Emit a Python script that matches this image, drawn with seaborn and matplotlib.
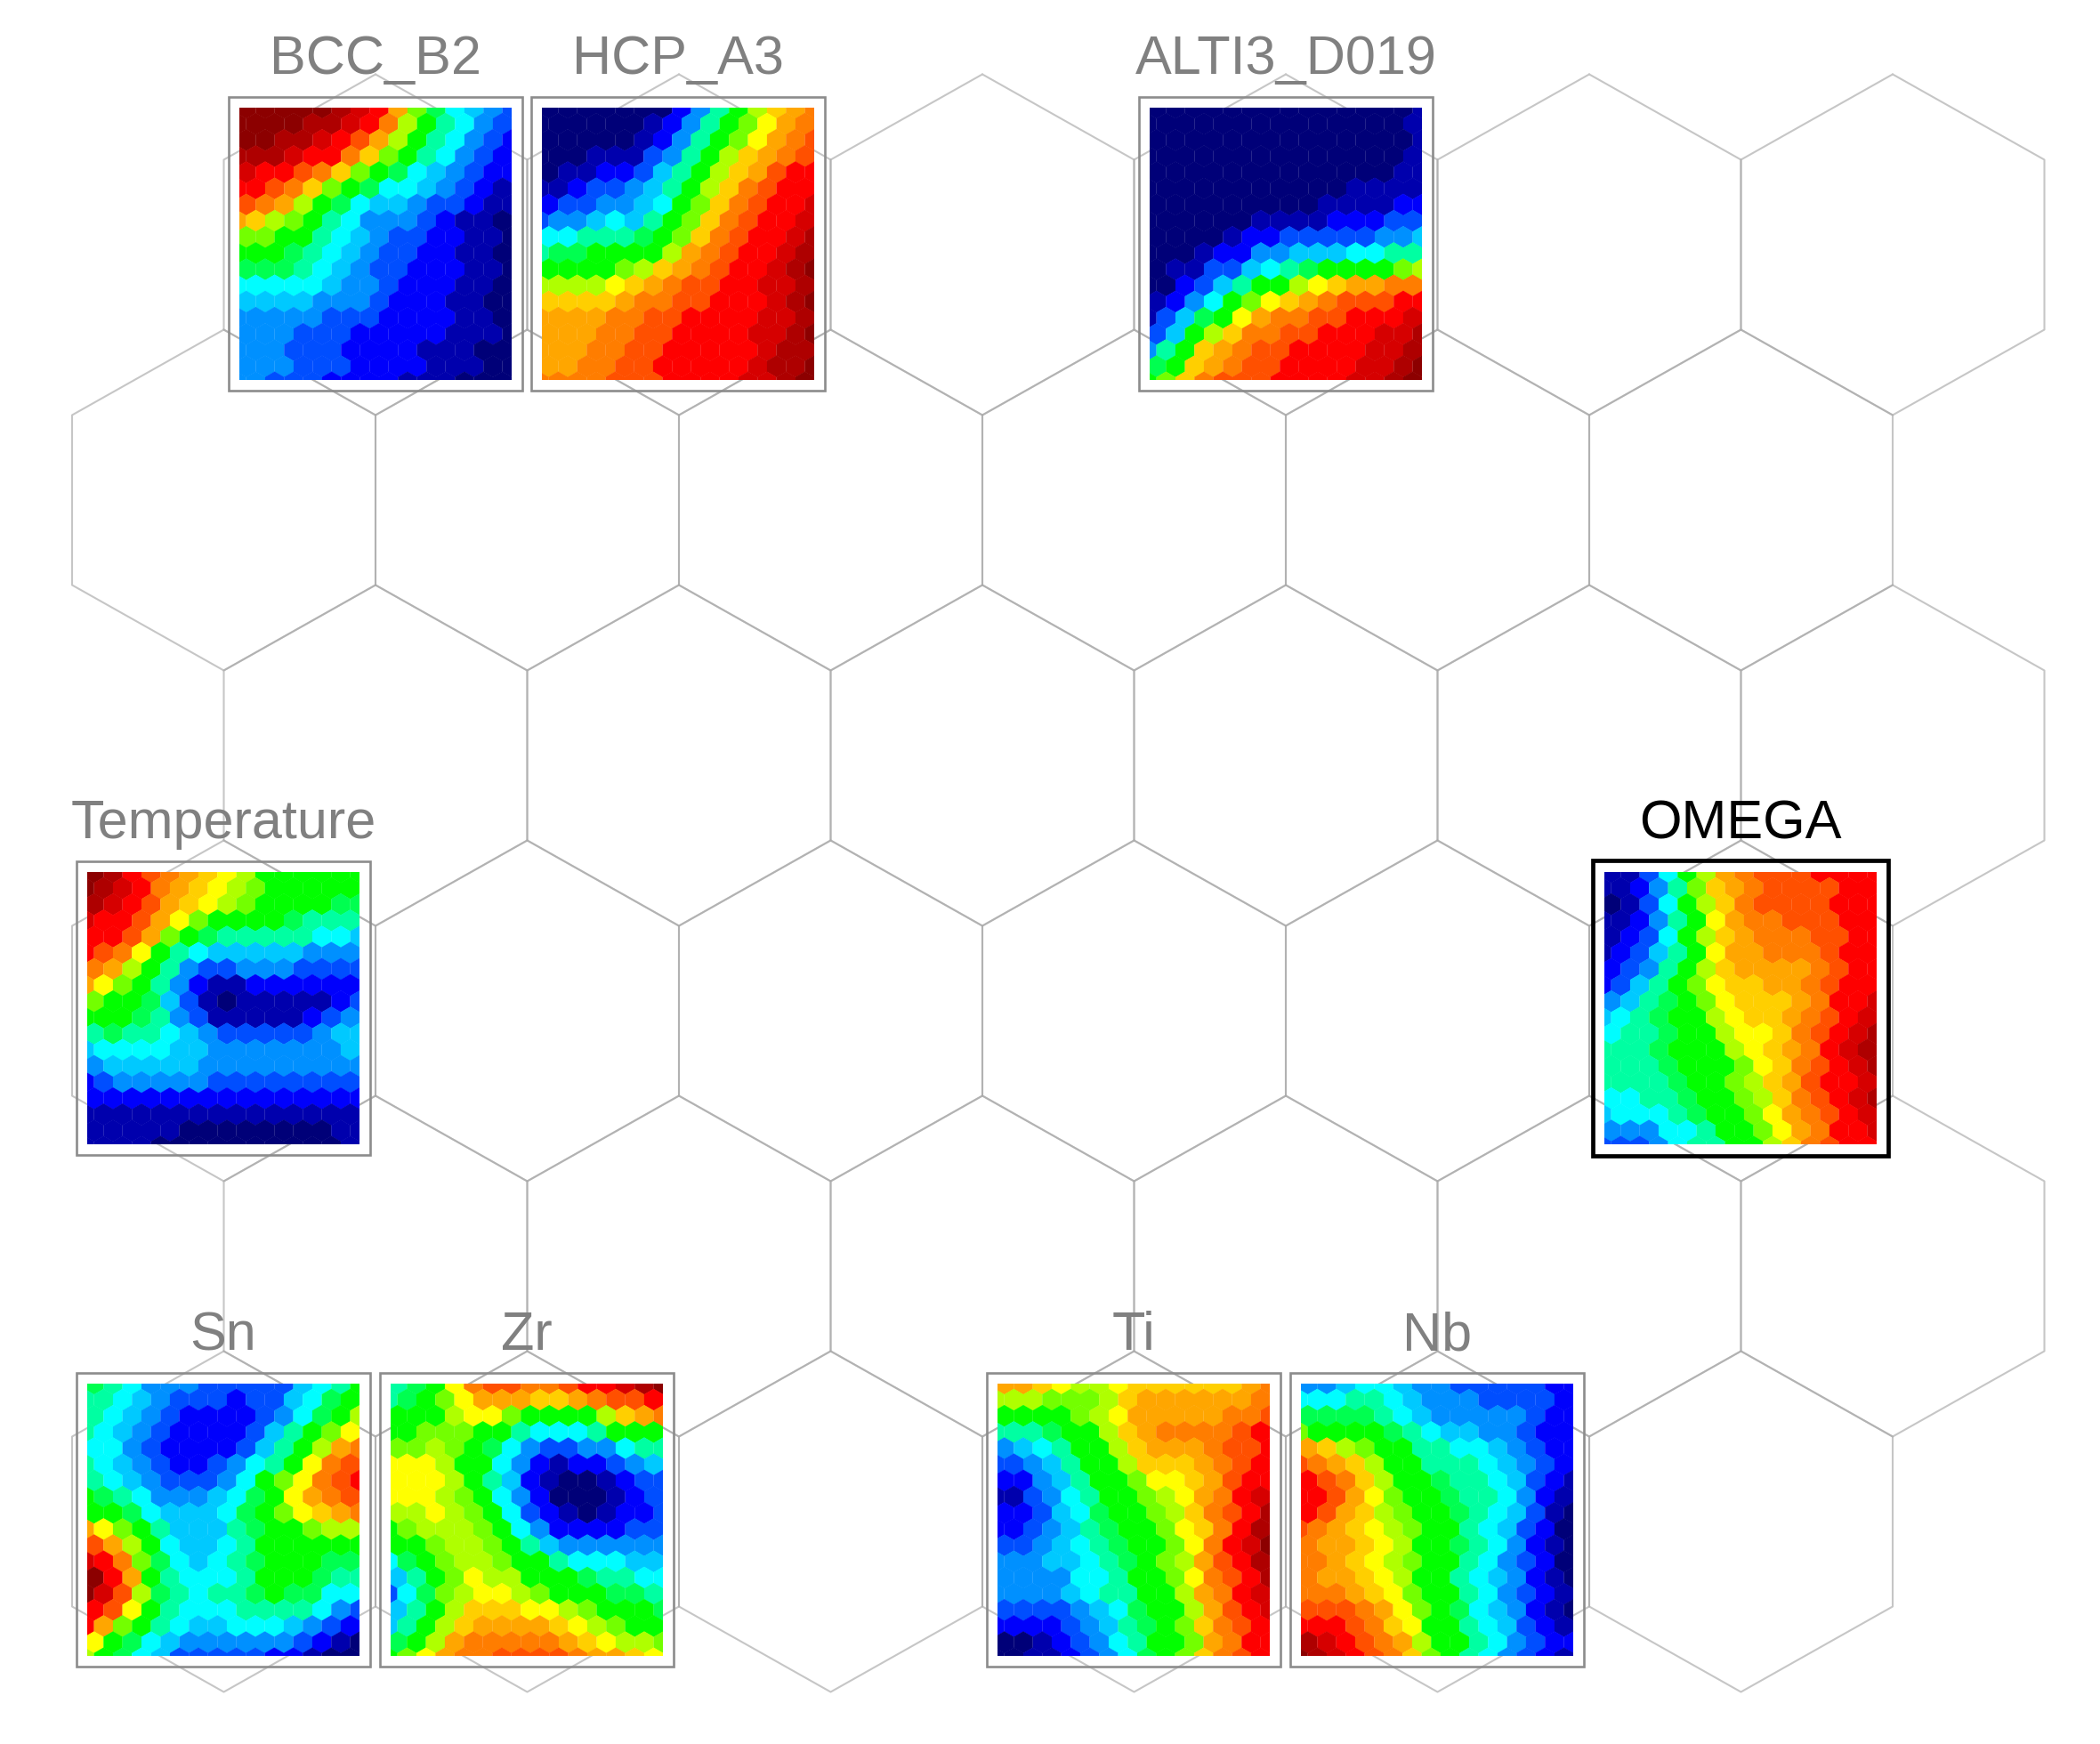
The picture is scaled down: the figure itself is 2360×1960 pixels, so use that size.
import numpy as np
import pandas as pd
import matplotlib.pyplot as plt
from matplotlib.colors import LinearSegmentedColormap
from matplotlib.patches import Rectangle
import seaborn as sns

sns.set_style("white")
plt.rcParams['font.family'] = ['Liberation Sans', 'DejaVu Sans']

# niveles (0 = azul oscuro, 20 = rojo oscuro)
BCC_B2 = [
    [20,20,20,20,20,19,18,17,14,10,8,6,5,4,3],
    [20,20,20,20,19,19,18,17,15,11,9,7,6,4,3],
    [20,20,19,19,18,17,16,14,11,9,7,6,4,3,2],
    [19,19,19,18,17,17,15,13,10,9,7,6,4,3,2],
    [18,17,17,16,15,13,10,9,8,6,5,4,3,2,2],
    [17,17,16,15,13,10,9,8,6,6,5,4,3,2,1],
    [16,15,14,11,9,8,6,5,5,4,3,3,2,1,1],
    [14,13,11,10,9,7,6,4,4,4,3,2,1,1,0],
    [10,10,9,9,7,6,5,4,3,3,2,2,1,1,0],
    [9,9,9,8,7,6,5,4,3,3,2,2,1,1,0],
    [8,8,8,7,6,5,4,3,3,2,2,2,1,1,0],
    [6,6,6,6,6,5,4,4,3,2,2,2,1,1,0],
    [5,5,5,5,4,4,4,3,2,2,2,1,1,0,0],
    [4,4,4,4,4,3,3,3,2,2,2,2,1,1,0],
    [4,4,4,3,3,3,2,2,2,2,2,1,1,1,0],
    [4,4,4,3,3,3,2,2,2,2,1,1,1,0,0],
    [4,4,4,3,3,3,2,2,2,2,1,1,1,0,0],
    [4,4,3,3,3,2,2,2,2,1,1,1,0,0,0],
]
HCP_A3 = [
    [0,0,0,0,0,0,0,2,4,7,9,11,13,14,15],
    [0,0,0,0,0,0,1,2,4,7,9,10,12,14,15],
    [0,0,0,0,0,1,2,4,7,9,10,12,14,15,16],
    [0,0,0,1,1,1,3,4,7,9,11,13,14,15,16],
    [0,1,1,2,2,3,5,7,9,11,13,14,16,17,17],
    [1,1,2,3,3,4,5,7,9,11,13,15,16,17,17],
    [2,3,3,4,4,5,6,9,10,13,15,16,17,17,18],
    [3,4,4,5,6,5,7,9,10,13,15,16,17,17,18],
    [6,6,7,7,7,8,9,10,13,15,16,17,17,18,19],
    [7,8,8,9,9,9,9,11,14,15,16,17,17,18,19],
    [9,9,9,9,10,11,13,14,15,16,17,17,18,19,20],
    [11,11,11,11,12,13,14,15,16,16,17,17,18,18,19],
    [13,13,13,13,14,15,15,16,16,17,17,17,18,19,20],
    [14,14,14,14,15,15,16,16,17,17,17,17,18,18,19],
    [14,14,14,15,15,16,16,17,17,17,17,18,18,19,20],
    [14,14,14,15,15,16,16,17,17,17,17,17,18,19,19],
    [14,14,15,15,16,16,17,17,17,17,17,18,19,19,20],
    [15,15,15,15,16,16,16,17,17,17,17,18,18,19,20],
]
ALTI3_D019 = [
    [0,0,0,0,0,0,0,0,0,0,0,0,0,0,1],
    [0,0,0,0,0,0,0,0,0,0,0,0,0,0,1],
    [0,0,0,0,0,0,0,0,0,0,0,0,0,0,1],
    [0,0,0,0,0,0,0,0,0,0,0,0,0,0,1],
    [0,0,0,0,0,0,0,0,0,0,0,0,0,1,1],
    [0,0,0,0,0,0,0,0,0,0,0,1,1,1,1],
    [0,0,0,0,0,0,0,0,0,1,1,1,1,2,2],
    [0,0,0,0,0,0,1,1,1,1,2,2,2,3,3],
    [0,0,0,0,1,2,2,3,3,3,3,3,4,4,5],
    [0,0,0,1,2,2,4,4,5,5,5,6,6,7,7],
    [0,1,1,3,3,5,6,7,8,9,9,9,9,10,11],
    [0,0,2,3,5,7,9,9,11,12,13,14,14,15,15],
    [1,2,4,6,9,10,12,13,14,15,16,16,16,17,17],
    [1,3,5,8,9,12,14,15,15,16,16,17,17,17,18],
    [3,5,9,11,13,15,15,16,16,17,17,17,18,18,19],
    [4,7,9,13,14,15,16,16,17,17,17,17,18,18,19],
    [8,9,13,14,15,16,16,17,17,17,17,18,18,19,20],
    [9,10,13,15,16,16,16,17,17,17,17,18,18,19,20],
]
TEMPERATURE = [
    [20,19,17,16,15,14,13,12,11,9,9,9,9,9,9],
    [20,19,18,17,15,14,13,12,11,10,9,9,9,9,9],
    [19,18,17,16,14,13,12,11,10,9,9,9,9,8,8],
    [18,17,17,16,14,12,10,9,9,9,9,8,7,7,7],
    [17,17,16,14,10,9,8,7,7,7,7,7,6,6,5],
    [17,16,15,12,9,7,6,5,5,5,5,5,4,4,4],
    [15,14,11,9,7,4,3,3,4,4,4,3,3,3,3],
    [14,12,10,9,7,4,2,1,1,2,2,2,2,2,2],
    [10,9,9,8,5,3,1,0,1,1,1,1,1,2,3],
    [9,9,9,8,7,4,3,1,1,1,1,1,2,3,4],
    [7,8,7,7,6,5,4,3,3,3,3,3,4,5,5],
    [5,6,6,6,6,5,5,4,4,4,4,4,4,4,5],
    [4,5,5,5,5,5,4,4,4,4,4,4,4,4,4],
    [2,3,4,4,4,4,4,3,3,3,3,3,3,3,3],
    [2,2,2,2,2,2,2,2,2,2,2,2,2,2,2],
    [1,1,1,1,1,1,1,1,1,1,1,1,1,1,1],
    [1,1,1,1,1,0,0,0,0,0,0,0,0,1,1],
    [1,1,1,1,0,0,0,0,0,0,0,0,0,0,1],
]
OMEGA = [
    [1,1,3,6,9,11,14,15,16,16,16,17,17,17,17],
    [1,1,2,4,7,10,13,14,15,16,16,16,16,17,17],
    [0,1,3,6,9,11,13,15,16,16,16,16,17,17,17],
    [1,1,2,4,7,9,12,14,15,15,16,16,16,17,17],
    [1,2,3,6,9,11,13,14,15,15,15,16,16,17,17],
    [1,2,3,5,7,9,12,14,14,15,15,15,16,17,17],
    [2,3,4,7,9,11,13,14,14,14,14,15,16,17,17],
    [2,3,5,7,9,10,12,13,13,14,14,15,16,17,17],
    [4,5,7,8,9,10,12,13,13,13,14,15,17,17,18],
    [5,6,7,8,9,9,11,12,13,13,14,15,16,17,18],
    [6,7,7,8,9,9,11,12,12,13,15,16,17,18,19],
    [7,7,7,8,9,9,9,11,12,13,14,15,17,18,19],
    [7,7,7,8,9,9,9,10,12,13,15,16,17,18,19],
    [7,7,7,7,8,9,9,10,11,13,14,16,17,17,18],
    [6,6,7,7,8,9,9,10,11,13,15,16,17,18,19],
    [5,6,6,6,7,8,9,9,10,12,14,15,16,17,18],
    [4,4,4,6,6,7,9,9,10,12,14,15,17,17,18],
    [3,3,3,4,6,7,7,9,9,11,13,15,16,17,17],
]
SN = [
    [8,7,6,4,4,4,3,3,3,3,3,5,6,7,9],
    [7,7,6,5,4,3,3,3,2,3,3,5,6,8,9],
    [7,6,5,4,3,2,2,2,2,3,4,6,8,9,11],
    [7,6,5,4,3,2,2,2,2,3,5,7,9,10,12],
    [6,6,4,3,2,2,2,2,3,5,7,9,11,14,15],
    [7,6,5,4,3,2,2,3,4,6,7,9,12,15,16],
    [7,6,5,4,3,3,3,4,6,9,10,12,15,16,17],
    [9,8,7,6,4,4,4,5,6,8,9,12,14,15,16],
    [9,9,8,6,5,5,5,6,8,9,10,12,13,14,15],
    [14,12,10,9,7,5,5,5,7,8,9,9,10,11,11],
    [16,14,11,9,6,5,5,6,7,9,9,9,9,9,9],
    [18,17,15,10,8,6,5,6,7,8,9,9,9,8,8],
    [20,17,14,9,7,6,6,6,7,9,9,9,8,7,7],
    [20,18,16,11,8,7,6,7,7,8,9,8,8,6,6],
    [17,16,12,9,7,6,6,6,7,7,7,7,6,4,3],
    [17,14,10,9,7,6,5,5,6,6,6,5,4,3,2],
    [12,9,8,6,5,4,4,4,4,4,4,3,2,1,0],
    [11,9,8,6,5,3,3,3,3,3,2,2,1,0,0],
]
ZR = [
    [7,8,9,12,15,16,16,15,15,16,17,17,18,19,20],
    [7,8,9,10,12,14,14,14,13,13,14,15,16,16,17],
    [9,9,9,11,12,12,10,9,9,9,9,11,13,14,15],
    [9,9,10,10,10,9,9,7,6,6,6,7,9,9,9],
    [10,10,11,10,9,8,6,4,3,3,4,4,6,7,7],
    [12,12,12,11,9,9,6,4,2,1,2,2,3,4,5],
    [12,12,12,11,9,7,5,2,1,0,0,1,2,3,3],
    [12,12,12,11,10,9,6,4,2,0,0,0,1,2,3],
    [11,11,12,11,10,9,6,3,2,1,0,1,2,2,3],
    [9,10,11,11,11,10,9,6,4,2,2,2,2,3,3],
    [9,9,10,11,11,10,9,7,5,4,4,4,4,4,4],
    [6,8,9,10,11,11,10,9,9,7,6,6,6,5,5],
    [5,7,9,10,12,11,11,9,9,9,8,7,7,6,6],
    [3,6,8,10,11,12,12,11,10,9,9,9,8,8,7],
    [5,7,9,11,13,13,13,12,12,11,10,9,9,9,8],
    [5,7,9,11,13,14,14,14,14,13,12,11,10,9,9],
    [8,9,11,14,15,15,15,15,15,14,13,12,11,11,10],
    [9,10,12,14,15,15,16,16,16,16,15,14,14,13,12],
]
TI = [
    [14,14,13,12,11,11,12,13,13,13,13,13,13,14,15],
    [11,11,11,10,10,10,11,13,14,14,14,14,14,14,15],
    [9,9,9,9,10,11,12,14,14,14,14,14,15,15,16],
    [7,7,7,8,9,9,11,13,14,15,15,15,15,16,17],
    [4,5,6,7,9,9,11,13,14,14,14,15,16,16,17],
    [3,3,4,5,7,9,9,11,13,13,13,14,15,16,17],
    [2,2,4,5,7,9,9,10,12,12,13,14,16,17,17],
    [1,1,3,4,6,7,9,9,10,11,12,14,15,17,18],
    [2,2,3,5,6,8,9,9,10,11,13,15,16,17,19],
    [2,2,3,4,5,7,8,9,9,10,12,13,15,17,19],
    [3,3,4,5,6,7,8,9,9,10,12,15,17,18,20],
    [4,4,4,5,5,6,7,8,9,10,11,14,16,17,19],
    [4,4,4,4,6,6,7,9,9,10,12,15,16,17,19],
    [4,4,4,4,5,6,7,7,9,9,11,14,15,17,18],
    [3,3,3,3,4,5,6,8,9,9,11,14,16,17,18],
    [2,2,2,2,3,4,5,7,8,9,10,13,15,16,17],
    [0,0,1,2,3,4,6,7,9,9,10,14,15,17,17],
    [0,0,1,1,2,3,4,6,8,9,10,13,15,16,17],
]
NB = [
    [4,4,5,6,6,5,4,4,3,3,3,3,3,2,2],
    [6,6,6,7,7,6,5,4,4,4,3,3,3,3,2],
    [8,8,8,8,7,6,5,4,4,4,4,4,3,2,2],
    [10,9,9,9,9,8,7,6,5,5,4,4,3,2,2],
    [14,13,11,10,9,9,7,7,6,6,5,4,3,2,2],
    [16,15,14,13,11,9,9,7,7,7,6,5,4,3,2],
    [17,16,15,13,11,9,9,8,7,7,6,5,3,2,1],
    [17,17,16,14,12,10,9,9,8,7,7,6,4,2,1],
    [17,16,14,13,11,10,9,9,8,7,6,5,3,1,0],
    [16,15,14,13,12,11,10,9,9,7,6,5,3,2,0],
    [15,14,14,13,12,11,9,9,8,7,6,4,2,1,0],
    [15,15,14,13,12,11,10,9,9,7,6,4,3,2,0],
    [15,14,14,13,12,11,9,9,7,6,5,4,2,1,0],
    [15,15,15,14,13,12,10,9,9,7,6,4,3,2,1],
    [16,16,16,15,14,12,10,9,8,6,5,4,2,1,0],
    [17,17,17,16,15,13,12,9,9,7,6,5,3,2,1],
    [19,18,17,16,15,14,11,9,9,7,6,4,3,2,2],
    [20,19,18,17,16,15,13,10,9,7,6,4,3,2,1],
]

COMPONENTS = ['BCC_B2', 'HCP_A3', 'ALTI3_D019', 'Temperature', 'OMEGA', 'Sn', 'Zr', 'Ti', 'Nb']
COMPONENT_VALUES = [BCC_B2, HCP_A3, ALTI3_D019, TEMPERATURE, OMEGA, SN, ZR, TI, NB]

# celdas del mapa de fondo: fila -> columnas ocupadas
BG_ROWS = [0, 1, 2, 3, 4, 5]
BG_COLS = [
    [1, 3, 5, 7, 9, 11],
    [0, 2, 4, 6, 8, 10],
    [1, 3, 5, 7, 9, 11],
    [0, 2, 4, 6, 8, 10],
    [1, 3, 5, 7, 9, 11],
    [0, 2, 4, 6, 8, 10],
]

LEVEL_COLORS = ['#000078', '#0000b0', '#0000ff', '#0050ff', '#0090ff', '#00c8ff', '#00ffff',
                '#00ffa0', '#00ff50', '#00ff00', '#70ff00', '#b0ff00', '#ffff00', '#ffd000',
                '#ffa800', '#ff8000', '#ff5000', '#ff0000', '#d80000', '#b00000', '#8c0000']
cmap = LinearSegmentedColormap.from_list('som', LEVEL_COLORS, N=256)

W, H = 2360, 1960
PANEL_SIZE = 306
# esquina interior de cada panel en pixeles
PANEL_POS = {
    'BCC_B2': (269, 121), 'HCP_A3': (609, 121), 'ALTI3_D019': (1292, 121),
    'Temperature': (98, 980), 'OMEGA': (1803, 980),
    'Sn': (98, 1555), 'Zr': (439, 1555), 'Ti': (1121, 1555), 'Nb': (1462, 1555),
}

fig = plt.figure(figsize=(W / 100, H / 100), dpi=100, facecolor='white')

# mapa de hexagonos de fondo
bg = fig.add_axes([0, 0, 1, 1], zorder=0)
for row, cols in zip(BG_ROWS, BG_COLS):
    for col in cols:
        cx = 251.5 + 170.5 * col
        cy = 275 + 287 * row
        hx = cx + 170.5 * np.array([0, 1, 1, 0, -1, -1, 0])
        hy = cy + np.array([-191.5, -95.5, 95.5, 191.5, 95.5, -95.5, -191.5])
        sns.lineplot(x=hx, y=hy, sort=False, estimator=None, color='#a8a8a8', alpha=0.65,
                     linewidth=1.5, ax=bg)
bg.set_xlim(0, W)
bg.set_ylim(H, 0)
bg.axis('off')


def draw_panel(name, values):
    left, top = PANEL_POS[name]
    ax = fig.add_axes([left / W, 1 - (top + PANEL_SIZE) / H, PANEL_SIZE / W, PANEL_SIZE / H], zorder=2)
    grid = np.array(values)
    rows, cols = np.indices(grid.shape)
    df = pd.DataFrame({'x': (cols + 0.5 * (rows % 2 == 0)).ravel(), 'y': rows.ravel(), 'v': grid.ravel()})
    sns.scatterplot(data=df, x='x', y='y', hue='v', palette=cmap, hue_norm=(0, 20), marker='h',
                    s=319, linewidth=0, legend=False, ax=ax)
    ax.set_xlim(0.14, 0.14 + PANEL_SIZE / 21.33)
    ax.set_ylim(PANEL_SIZE / 18.17, 0)
    ax.set(xticks=[], yticks=[], xlabel='', ylabel='')
    sns.despine(ax=ax, left=True, bottom=True)

    # marco y titulo
    selected = name == 'OMEGA'
    color = 'black' if selected else '#8c8c8c'
    pad = 13 if selected else 12
    fig.add_artist(Rectangle(((left - pad) / W, 1 - (top + PANEL_SIZE + pad) / H),
                             (PANEL_SIZE + 2 * pad) / W, (PANEL_SIZE + 2 * pad) / H,
                             transform=fig.transFigure, fill=False, edgecolor=color,
                             linewidth=3.4 if selected else 1.9, zorder=3))
    fig.text((left + PANEL_SIZE / 2) / W, 1 - (top - 38) / H, name, ha='center', va='baseline',
             fontsize=44, color='black' if selected else '#808080', zorder=4)


for name, values in zip(COMPONENTS, COMPONENT_VALUES):
    draw_panel(name, values)

fig.savefig('out.png', dpi=100)
